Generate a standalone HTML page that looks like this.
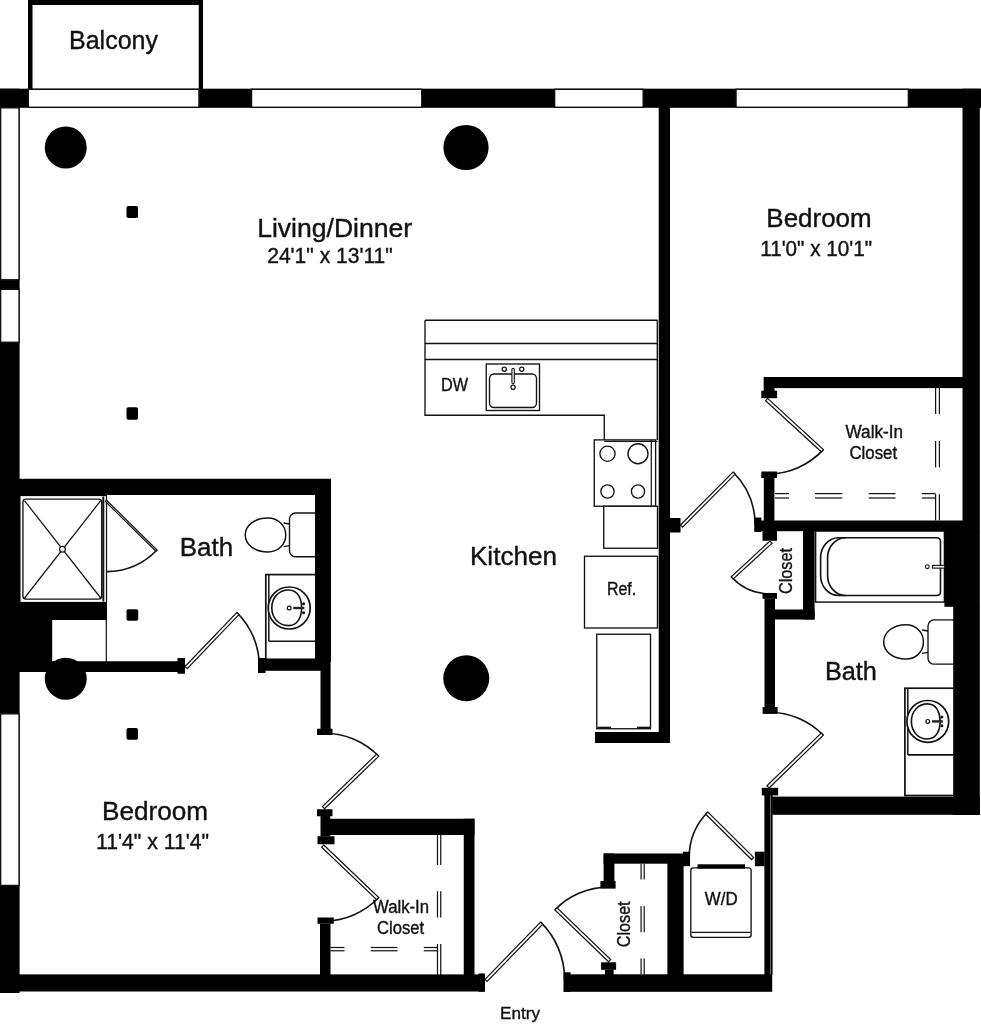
<!DOCTYPE html>
<html><head><meta charset="utf-8"><title>Floor plan</title>
<style>
html,body{margin:0;padding:0;background:#fff;}
body{width:981px;height:1024px;overflow:hidden;}
svg{display:block;will-change:transform;}
text{font-family:"Liberation Sans","DejaVu Sans",sans-serif;fill:#111;}
</style></head><body>
<svg width="981" height="1024" viewBox="0 0 981 1024">
<rect width="981" height="1024" fill="#fff"/>
<path d="M425,320.25 H657.5 M425,343.5 H657.5 M425,359.5 H657.5 M425,320.25 V415.25 H604.25 V441 M657.3,320.25 V440" fill="none" stroke="#111" stroke-width="1.34"/>
<rect x="486.25" y="364.00" width="53.25" height="46.50" rx="0" fill="#fff" stroke="#111" stroke-width="1.34"/>
<rect x="489.50" y="374.00" width="47.00" height="33.50" rx="4.5" fill="#fff" stroke="#111" stroke-width="1.34"/>
<circle cx="504.25" cy="369.25" r="2.10" fill="#fff" stroke="#111" stroke-width="1.22"/>
<circle cx="521.75" cy="369.25" r="2.10" fill="#fff" stroke="#111" stroke-width="1.22"/>
<rect x="511.90" y="368.30" width="2.40" height="15.30" rx="1.2" fill="#fff" stroke="#111" stroke-width="1.1"/>
<circle cx="513.10" cy="387.20" r="2.10" fill="#fff" stroke="#111" stroke-width="1.22"/>
<rect x="594.25" y="439.90" width="61.35" height="66.35" rx="0" fill="#fff" stroke="#111" stroke-width="1.34"/>
<line x1="604.25" y1="441.30" x2="657.50" y2="441.30" stroke="#111" stroke-width="1.22"/>
<line x1="651.30" y1="440.00" x2="651.30" y2="506.00" stroke="#111" stroke-width="1.22"/>
<circle cx="607.50" cy="453.75" r="7.60" fill="#fff" stroke="#111" stroke-width="1.34"/>
<circle cx="638.00" cy="453.75" r="10.00" fill="#fff" stroke="#111" stroke-width="1.34"/>
<circle cx="607.50" cy="491.50" r="6.60" fill="#fff" stroke="#111" stroke-width="1.34"/>
<circle cx="638.00" cy="491.50" r="6.60" fill="#fff" stroke="#111" stroke-width="1.34"/>
<rect x="603.75" y="506.25" width="53.75" height="42.00" rx="0" fill="#fff" stroke="#111" stroke-width="1.34"/>
<rect x="584.50" y="556.25" width="73.00" height="71.75" rx="0" fill="#fff" stroke="#111" stroke-width="1.34"/>
<rect x="596.75" y="634.25" width="53.75" height="94.50" rx="0" fill="#fff" stroke="#111" stroke-width="1.34"/>
<line x1="597.50" y1="727.80" x2="611.00" y2="727.80" stroke="#111" stroke-width="2.2"/>
<line x1="637.00" y1="727.80" x2="650.00" y2="727.80" stroke="#111" stroke-width="2.2"/>
<line x1="106.50" y1="496.00" x2="106.50" y2="602.00" stroke="#111" stroke-width="1.22"/>
<rect x="22.90" y="499.10" width="78.80" height="100.00" rx="3" fill="#fff" stroke="#111" stroke-width="1.34"/>
<line x1="103.30" y1="496.50" x2="103.30" y2="601.50" stroke="#111" stroke-width="2.0"/>
<line x1="24.50" y1="500.70" x2="100.70" y2="598.00" stroke="#111" stroke-width="1.22"/>
<line x1="100.70" y1="500.70" x2="24.50" y2="598.00" stroke="#111" stroke-width="1.22"/>
<circle cx="62.50" cy="549.25" r="2.90" fill="#fff" stroke="#111" stroke-width="1.22"/>
<path d="M157.00,550.00 A70.78,70.78 0 0 1 106.60,571.60" fill="none" stroke="#111" stroke-width="1.65"/>
<polygon points="106.60,500.30 157.00,550.00 155.81,551.21 105.41,501.51" fill="#fff" stroke="#111" stroke-width="1.2" stroke-linejoin="miter"/>
<line x1="106.30" y1="620.00" x2="106.30" y2="661.50" stroke="#111" stroke-width="1.22"/>
<rect x="289.50" y="513.00" width="30.50" height="43.75" rx="6" fill="#fff" stroke="#111" stroke-width="1.34"/>
<path d="M283.6,523 L289.5,524 M283.6,546.6 L289.5,545.6" fill="none" stroke="#111" stroke-width="1.34"/>
<path d="M245.25,535.00 C245.25,525.48 254.78,518.00 267.93,518.00 C278.27,518.00 285.75,525.48 285.75,535.00 C285.75,544.52 278.27,552.00 267.93,552.00 C254.78,552.00 245.25,544.52 245.25,535.00 Z" fill="#fff" stroke="#111" stroke-width="1.46"/>
<rect x="265.80" y="574.60" width="50.20" height="84.70" rx="0" fill="#fff" stroke="#111" stroke-width="1.71"/>
<line x1="268.80" y1="574.60" x2="268.80" y2="641.30" stroke="#111" stroke-width="1.46"/>
<line x1="268.80" y1="641.30" x2="315.00" y2="641.30" stroke="#111" stroke-width="1.59"/>
<circle cx="289.20" cy="608.00" r="21.00" fill="#fff" stroke="#111" stroke-width="1.71"/>
<path d="M271.80,607.80 C271.80,597.12 279.31,590.00 288.49,590.00 C298.60,590.00 301.60,599.79 301.60,607.80 C301.60,615.81 298.60,625.60 288.49,625.60 C279.31,625.60 271.80,618.48 271.80,607.80 Z" fill="#fff" stroke="#111" stroke-width="1.59"/>
<circle cx="289.20" cy="608.00" r="1.90" fill="#fff" stroke="#111" stroke-width="1.22"/>
<line x1="293.20" y1="608.00" x2="304.40" y2="608.00" stroke="#222" stroke-width="2.4"/>
<circle cx="303.60" cy="603.70" r="1.50" fill="#111"/>
<circle cx="303.60" cy="612.70" r="1.50" fill="#111"/>
<path d="M236.75,612.50 A74.79,74.79 0 0 1 259.30,666.50" fill="none" stroke="#111" stroke-width="1.65"/>
<polygon points="185.00,666.50 236.75,612.50 238.92,614.58 187.17,668.58" fill="#fff" stroke="#111" stroke-width="1.2" stroke-linejoin="miter"/>
<rect x="815.60" y="531.00" width="128.80" height="71.10" rx="0" fill="#fff" stroke="#111" stroke-width="1.46"/>
<path d="M838.5,537.7 H936.5 Q940.5,537.7 940.5,541.7 V591.5 Q940.5,595.5 936.5,595.5 H838.5 A18,20 0 0 1 820.6,575.5 V557.7 A18,20 0 0 1 838.5,537.7 Z" fill="#fff" stroke="#111" stroke-width="1.59"/>
<path d="M845.5,537.7 A18,20 0 0 0 827.6,557.7 V575.5 A18,20 0 0 0 845.5,595.5" fill="none" stroke="#111" stroke-width="1.59"/>
<circle cx="927.30" cy="566.70" r="1.90" fill="#fff" stroke="#111" stroke-width="1.1"/>
<rect x="932.50" y="565.40" width="12.50" height="2.70" rx="0" fill="#fff" stroke="#111" stroke-width="1.1"/>
<rect x="928.00" y="619.90" width="32.00" height="44.30" rx="6" fill="#fff" stroke="#111" stroke-width="1.34"/>
<path d="M922,630 L928,631 M922,653.4 L928,652.4" fill="none" stroke="#111" stroke-width="1.34"/>
<path d="M883.70,641.95 C883.70,632.35 893.04,624.80 905.93,624.80 C916.06,624.80 923.40,632.35 923.40,641.95 C923.40,651.55 916.06,659.10 905.93,659.10 C893.04,659.10 883.70,651.55 883.70,641.95 Z" fill="#fff" stroke="#111" stroke-width="1.46"/>
<rect x="904.90" y="688.20" width="50.10" height="107.30" rx="0" fill="#fff" stroke="#111" stroke-width="1.71"/>
<line x1="907.80" y1="688.20" x2="907.80" y2="754.90" stroke="#111" stroke-width="1.46"/>
<line x1="907.80" y1="754.90" x2="953.50" y2="754.90" stroke="#111" stroke-width="1.59"/>
<circle cx="927.80" cy="721.40" r="20.90" fill="#fff" stroke="#111" stroke-width="1.71"/>
<path d="M911.40,721.45 C911.40,710.92 918.63,703.90 927.47,703.90 C937.10,703.90 940.10,713.55 940.10,721.45 C940.10,729.35 937.10,739.00 927.47,739.00 C918.63,739.00 911.40,731.98 911.40,721.45 Z" fill="#fff" stroke="#111" stroke-width="1.59"/>
<circle cx="927.80" cy="721.40" r="1.90" fill="#fff" stroke="#111" stroke-width="1.22"/>
<line x1="931.90" y1="721.40" x2="942.90" y2="721.40" stroke="#222" stroke-width="2.4"/>
<circle cx="941.90" cy="716.90" r="1.50" fill="#111"/>
<circle cx="941.90" cy="725.80" r="1.50" fill="#111"/>
<rect x="690.80" y="867.80" width="60.30" height="69.50" rx="2.5" fill="#fff" stroke="#111" stroke-width="1.34"/>
<line x1="691.50" y1="932.30" x2="750.50" y2="932.30" stroke="#111" stroke-width="1.22"/>
<rect x="697.50" y="864.30" width="47.50" height="4.30" fill="#000" />
<line x1="935.60" y1="388.00" x2="935.60" y2="414.00" stroke="#111" stroke-width="1.22"/>
<line x1="939.40" y1="388.00" x2="939.40" y2="414.00" stroke="#111" stroke-width="1.22"/>
<line x1="935.60" y1="441.00" x2="935.60" y2="467.40" stroke="#111" stroke-width="1.22"/>
<line x1="939.40" y1="441.00" x2="939.40" y2="467.40" stroke="#111" stroke-width="1.22"/>
<line x1="935.60" y1="494.20" x2="935.60" y2="520.50" stroke="#111" stroke-width="1.22"/>
<line x1="939.40" y1="494.20" x2="939.40" y2="520.50" stroke="#111" stroke-width="1.22"/>
<line x1="775.00" y1="493.60" x2="789.00" y2="493.60" stroke="#111" stroke-width="1.22"/>
<line x1="775.00" y1="498.00" x2="789.00" y2="498.00" stroke="#111" stroke-width="1.22"/>
<line x1="815.00" y1="493.60" x2="842.30" y2="493.60" stroke="#111" stroke-width="1.22"/>
<line x1="815.00" y1="498.00" x2="842.30" y2="498.00" stroke="#111" stroke-width="1.22"/>
<line x1="868.70" y1="493.60" x2="895.50" y2="493.60" stroke="#111" stroke-width="1.22"/>
<line x1="868.70" y1="498.00" x2="895.50" y2="498.00" stroke="#111" stroke-width="1.22"/>
<line x1="921.80" y1="493.60" x2="935.60" y2="493.60" stroke="#111" stroke-width="1.22"/>
<line x1="921.80" y1="498.00" x2="935.60" y2="498.00" stroke="#111" stroke-width="1.22"/>
<line x1="437.50" y1="835.00" x2="437.50" y2="865.00" stroke="#111" stroke-width="1.22"/>
<line x1="440.75" y1="835.00" x2="440.75" y2="865.00" stroke="#111" stroke-width="1.22"/>
<line x1="437.50" y1="891.25" x2="437.50" y2="917.50" stroke="#111" stroke-width="1.22"/>
<line x1="440.75" y1="891.25" x2="440.75" y2="917.50" stroke="#111" stroke-width="1.22"/>
<line x1="437.50" y1="944.00" x2="437.50" y2="975.00" stroke="#111" stroke-width="1.22"/>
<line x1="440.75" y1="944.00" x2="440.75" y2="975.00" stroke="#111" stroke-width="1.22"/>
<line x1="330.50" y1="947.50" x2="344.50" y2="947.50" stroke="#111" stroke-width="1.22"/>
<line x1="330.50" y1="950.75" x2="344.50" y2="950.75" stroke="#111" stroke-width="1.22"/>
<line x1="370.75" y1="947.50" x2="397.50" y2="947.50" stroke="#111" stroke-width="1.22"/>
<line x1="370.75" y1="950.75" x2="397.50" y2="950.75" stroke="#111" stroke-width="1.22"/>
<line x1="423.75" y1="947.50" x2="437.50" y2="947.50" stroke="#111" stroke-width="1.22"/>
<line x1="423.75" y1="950.75" x2="437.50" y2="950.75" stroke="#111" stroke-width="1.22"/>
<line x1="641.10" y1="863.70" x2="641.10" y2="879.40" stroke="#111" stroke-width="1.22"/>
<line x1="644.20" y1="863.70" x2="644.20" y2="879.40" stroke="#111" stroke-width="1.22"/>
<line x1="641.10" y1="906.10" x2="641.10" y2="932.30" stroke="#111" stroke-width="1.22"/>
<line x1="644.20" y1="906.10" x2="644.20" y2="932.30" stroke="#111" stroke-width="1.22"/>
<line x1="641.10" y1="958.60" x2="641.10" y2="974.50" stroke="#111" stroke-width="1.22"/>
<line x1="644.20" y1="958.60" x2="644.20" y2="974.50" stroke="#111" stroke-width="1.22"/>
<path d="M733.00,472.00 A74.60,74.60 0 0 1 755.10,525.00" fill="none" stroke="#111" stroke-width="1.65"/>
<polygon points="680.50,525.00 733.00,472.00 735.13,474.11 682.63,527.11" fill="#fff" stroke="#111" stroke-width="1.2" stroke-linejoin="miter"/>
<path d="M823.30,449.60 A75.66,75.66 0 0 1 767.60,474.00" fill="none" stroke="#111" stroke-width="1.65"/>
<polygon points="767.60,398.40 823.30,449.60 821.27,451.81 765.57,400.61" fill="#fff" stroke="#111" stroke-width="1.2" stroke-linejoin="miter"/>
<path d="M731.25,576.75 A52.72,52.72 0 0 0 770.00,593.80" fill="none" stroke="#111" stroke-width="1.65"/>
<polygon points="770.00,541.00 731.25,576.75 733.28,578.95 772.03,543.20" fill="#fff" stroke="#111" stroke-width="1.2" stroke-linejoin="miter"/>
<path d="M823.30,735.20 A75.74,75.74 0 0 0 769.00,712.30" fill="none" stroke="#111" stroke-width="1.65"/>
<polygon points="769.00,788.00 823.30,735.20 821.21,733.05 766.91,785.85" fill="#fff" stroke="#111" stroke-width="1.2" stroke-linejoin="miter"/>
<path d="M378.75,756.25 A75.49,75.49 0 0 0 324.50,733.30" fill="none" stroke="#111" stroke-width="1.65"/>
<polygon points="324.50,808.75 378.75,756.25 376.66,754.09 322.41,806.59" fill="#fff" stroke="#111" stroke-width="1.2" stroke-linejoin="miter"/>
<path d="M378.75,897.50 A76.03,76.03 0 0 1 323.75,921.00" fill="none" stroke="#111" stroke-width="1.65"/>
<polygon points="323.75,845.00 378.75,897.50 376.68,899.67 321.68,847.17" fill="#fff" stroke="#111" stroke-width="1.2" stroke-linejoin="miter"/>
<path d="M540.60,922.20 A79.70,79.70 0 0 1 564.60,979.30" fill="none" stroke="#111" stroke-width="1.65"/>
<polygon points="485.00,979.30 540.60,922.20 542.75,924.29 487.15,981.39" fill="#fff" stroke="#111" stroke-width="1.2" stroke-linejoin="miter"/>
<path d="M554.90,909.90 A74.68,74.68 0 0 1 608.60,887.10" fill="none" stroke="#111" stroke-width="1.65"/>
<polygon points="608.60,961.80 554.90,909.90 556.98,907.74 610.68,959.64" fill="#fff" stroke="#111" stroke-width="1.2" stroke-linejoin="miter"/>
<path d="M707.90,812.00 A64.42,64.42 0 0 0 689.20,857.40" fill="none" stroke="#111" stroke-width="1.65"/>
<polygon points="753.60,857.40 707.90,812.00 705.79,814.13 751.49,859.53" fill="#fff" stroke="#111" stroke-width="1.2" stroke-linejoin="miter"/>
<rect x="28.00" y="0.00" width="175.00" height="5.00" fill="#000" />
<rect x="28.00" y="0.00" width="4.50" height="89.50" fill="#000" />
<rect x="198.75" y="0.00" width="4.25" height="89.50" fill="#000" />
<rect x="0.00" y="88.70" width="981.00" height="19.10" fill="#000" />
<rect x="0.00" y="88.70" width="19.60" height="904.30" fill="#000" />
<rect x="962.50" y="88.70" width="17.30" height="443.30" fill="#000" />
<rect x="944.40" y="531.00" width="35.40" height="75.80" fill="#000" />
<rect x="953.20" y="606.00" width="26.60" height="209.00" fill="#000" />
<rect x="28.30" y="89.30" width="170.70" height="18.00" rx="0" fill="#fff" stroke="#111" stroke-width="1.46"/>
<rect x="251.50" y="89.30" width="170.30" height="18.00" rx="0" fill="#fff" stroke="#111" stroke-width="1.46"/>
<rect x="554.60" y="89.30" width="88.60" height="18.00" rx="0" fill="#fff" stroke="#111" stroke-width="1.46"/>
<rect x="736.00" y="89.30" width="172.40" height="18.00" rx="0" fill="#fff" stroke="#111" stroke-width="1.46"/>
<rect x="0.60" y="107.80" width="18.50" height="172.00" rx="0" fill="#fff" stroke="#111" stroke-width="1.46"/>
<rect x="0.60" y="289.30" width="18.50" height="53.00" rx="0" fill="#fff" stroke="#111" stroke-width="1.46"/>
<rect x="0.60" y="713.80" width="18.50" height="171.70" rx="0" fill="#fff" stroke="#111" stroke-width="1.46"/>
<rect x="658.70" y="107.00" width="11.30" height="636.00" fill="#000" />
<rect x="595.00" y="732.00" width="75.00" height="11.00" fill="#000" />
<rect x="669.50" y="518.00" width="11.00" height="14.50" fill="#000" />
<rect x="17.00" y="478.75" width="314.00" height="16.25" fill="#000" />
<rect x="315.00" y="495.00" width="16.00" height="167.00" fill="#000" />
<rect x="320.50" y="660.00" width="10.10" height="69.00" fill="#000" />
<rect x="317.00" y="728.75" width="15.50" height="6.25" fill="#000" />
<rect x="19.00" y="601.90" width="88.00" height="18.10" fill="#000" />
<rect x="19.00" y="620.00" width="33.20" height="42.50" fill="#000" />
<rect x="19.00" y="494.00" width="1.50" height="110.00" fill="#000" />
<rect x="19.00" y="494.00" width="88.00" height="2.10" fill="#000" />
<rect x="19.00" y="661.25" width="166.00" height="10.75" fill="#000" />
<rect x="177.50" y="658.00" width="7.50" height="15.75" fill="#000" />
<rect x="258.00" y="659.25" width="63.00" height="11.55" fill="#000" />
<rect x="258.00" y="658.00" width="7.50" height="15.00" fill="#000" />
<rect x="317.00" y="809.25" width="15.50" height="7.00" fill="#000" />
<rect x="320.50" y="816.00" width="9.70" height="20.50" fill="#000" />
<rect x="317.50" y="836.25" width="17.00" height="8.00" fill="#000" />
<rect x="330.00" y="818.75" width="144.50" height="16.25" fill="#000" />
<rect x="463.75" y="818.75" width="10.75" height="157.25" fill="#000" />
<rect x="317.50" y="917.50" width="16.25" height="6.25" fill="#000" />
<rect x="320.00" y="923.75" width="10.50" height="52.25" fill="#000" />
<rect x="19.00" y="974.40" width="466.00" height="17.10" fill="#000" />
<rect x="478.70" y="973.40" width="5.90" height="18.40" fill="#000" />
<rect x="563.70" y="974.30" width="208.50" height="17.50" fill="#000" />
<rect x="563.70" y="972.30" width="6.90" height="19.50" fill="#000" />
<rect x="603.60" y="853.50" width="86.20" height="10.20" fill="#000" />
<rect x="603.60" y="853.50" width="10.80" height="28.50" fill="#000" />
<rect x="600.40" y="881.00" width="15.20" height="7.60" fill="#000" />
<rect x="667.40" y="863.00" width="16.20" height="112.00" fill="#000" />
<rect x="601.10" y="962.30" width="15.00" height="7.50" fill="#000" />
<rect x="604.90" y="969.80" width="8.70" height="5.20" fill="#000" />
<rect x="683.00" y="851.70" width="7.00" height="14.50" fill="#000" />
<rect x="754.90" y="851.70" width="9.70" height="14.50" fill="#000" />
<rect x="764.40" y="795.00" width="5.60" height="180.00" fill="#000" />
<line x1="771.50" y1="795.00" x2="771.50" y2="975.00" stroke="#000" stroke-width="2.2"/>
<rect x="772.20" y="796.60" width="207.60" height="18.20" fill="#000" />
<rect x="764.50" y="598.50" width="10.50" height="109.50" fill="#000" />
<rect x="762.50" y="593.00" width="14.50" height="5.75" fill="#000" />
<rect x="762.60" y="707.00" width="15.00" height="6.90" fill="#000" />
<rect x="761.80" y="787.80" width="16.30" height="7.60" fill="#000" />
<rect x="754.50" y="520.50" width="208.50" height="10.70" fill="#000" />
<rect x="754.50" y="517.50" width="6.80" height="14.50" fill="#000" />
<rect x="762.50" y="530.50" width="14.50" height="10.25" fill="#000" />
<rect x="803.00" y="530.50" width="11.60" height="89.00" fill="#000" />
<rect x="775.00" y="609.50" width="39.60" height="10.00" fill="#000" />
<rect x="763.80" y="377.00" width="199.20" height="11.10" fill="#000" />
<rect x="763.80" y="377.00" width="10.80" height="14.00" fill="#000" />
<rect x="761.30" y="390.70" width="15.80" height="7.50" fill="#000" />
<rect x="761.30" y="471.50" width="15.80" height="6.50" fill="#000" />
<rect x="763.80" y="478.00" width="10.60" height="43.00" fill="#000" />
<circle cx="65.75" cy="147.50" r="21.00" fill="#000"/>
<circle cx="466.00" cy="147.50" r="22.60" fill="#000"/>
<circle cx="466.25" cy="678.25" r="23.00" fill="#000"/>
<circle cx="65.75" cy="678.75" r="21.00" fill="#000"/>
<rect x="126.50" y="206.00" width="11.50" height="12.00" fill="#000" rx="1.8"/>
<rect x="126.50" y="407.25" width="11.50" height="12.50" fill="#000" rx="1.8"/>
<rect x="126.50" y="609.25" width="11.75" height="11.50" fill="#000" rx="1.8"/>
<rect x="126.50" y="728.00" width="11.50" height="11.70" fill="#000" rx="1.8"/>
<text x="68.97" y="49.40" font-size="25.7" textLength="89.02" lengthAdjust="spacingAndGlyphs" stroke="#111" stroke-width="0.38">Balcony</text>
<text x="257.18" y="236.60" font-size="25.7" textLength="155.02" lengthAdjust="spacingAndGlyphs" stroke="#111" stroke-width="0.38">Living/Dinner</text>
<text x="267.20" y="263.20" font-size="21.3" textLength="125.61" lengthAdjust="spacingAndGlyphs" stroke="#111" stroke-width="0.38">24'1&quot; x 13'11&quot;</text>
<text x="766.37" y="227.40" font-size="25.7" textLength="105.27" lengthAdjust="spacingAndGlyphs" stroke="#111" stroke-width="0.38">Bedroom</text>
<text x="760.18" y="255.70" font-size="21.3" textLength="111.83" lengthAdjust="spacingAndGlyphs" stroke="#111" stroke-width="0.38">11'0&quot; x 10'1&quot;</text>
<text x="469.95" y="564.65" font-size="25.7" textLength="87.12" lengthAdjust="spacingAndGlyphs" stroke="#111" stroke-width="0.38">Kitchen</text>
<text x="845.60" y="438.20" font-size="18" textLength="57.41" lengthAdjust="spacingAndGlyphs" stroke="#111" stroke-width="0.38">Walk-In</text>
<text x="849.39" y="459.00" font-size="18" textLength="47.81" lengthAdjust="spacingAndGlyphs" stroke="#111" stroke-width="0.38">Closet</text>
<text x="101.96" y="820.15" font-size="25.7" textLength="106.06" lengthAdjust="spacingAndGlyphs" stroke="#111" stroke-width="0.38">Bedroom</text>
<text x="95.97" y="848.90" font-size="21.3" textLength="113.04" lengthAdjust="spacingAndGlyphs" stroke="#111" stroke-width="0.38">11'4&quot; x 11'4&quot;</text>
<text x="373.00" y="913.40" font-size="18" textLength="56.01" lengthAdjust="spacingAndGlyphs" stroke="#111" stroke-width="0.38">Walk-In</text>
<text x="377.00" y="934.15" font-size="18" textLength="47.00" lengthAdjust="spacingAndGlyphs" stroke="#111" stroke-width="0.38">Closet</text>
<text x="499.99" y="1018.90" font-size="17.4" textLength="40.01" lengthAdjust="spacingAndGlyphs" stroke="#111" stroke-width="0.38">Entry</text>
<text x="440.97" y="391.40" font-size="18" textLength="27.05" lengthAdjust="spacingAndGlyphs" stroke="#111" stroke-width="0.38">DW</text>
<text x="606.92" y="595.40" font-size="17.6" textLength="29.16" lengthAdjust="spacingAndGlyphs" stroke="#111" stroke-width="0.38">Ref.</text>
<text x="179.85" y="555.90" font-size="25.7" textLength="53.21" lengthAdjust="spacingAndGlyphs" stroke="#111" stroke-width="0.38">Bath</text>
<text x="824.94" y="680.40" font-size="25.7" textLength="51.95" lengthAdjust="spacingAndGlyphs" stroke="#111" stroke-width="0.38">Bath</text>
<text x="704.79" y="904.50" font-size="17.8" textLength="32.81" lengthAdjust="spacingAndGlyphs" stroke="#111" stroke-width="0.38">W/D</text>
<text x="0" y="0" font-size="18" textLength="46.01" lengthAdjust="spacingAndGlyphs" stroke="#111" stroke-width="0.38" transform="translate(791.90,594.00) rotate(-90)">Closet</text>
<text x="0" y="0" font-size="18" textLength="45.83" lengthAdjust="spacingAndGlyphs" stroke="#111" stroke-width="0.38" transform="translate(629.60,947.21) rotate(-90)">Closet</text>
</svg>
</body></html>
